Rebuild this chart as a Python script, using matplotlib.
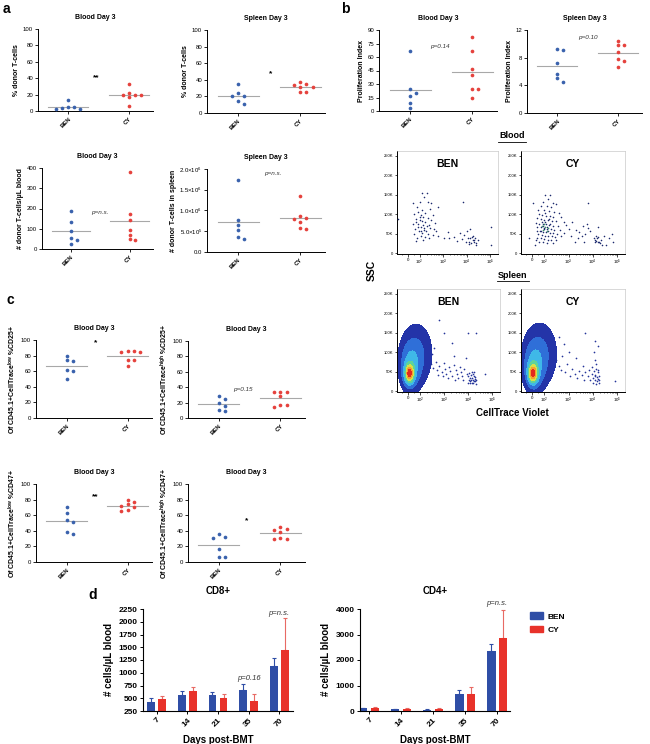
import numpy as np
import matplotlib
matplotlib.use('Agg')
import matplotlib.pyplot as plt
from matplotlib.lines import Line2D
from matplotlib.patches import Patch

plt.rcParams['font.family'] = ['Liberation Sans', 'DejaVu Sans']
plt.rcParams['mathtext.fontset'] = 'custom'
plt.rcParams['mathtext.rm'] = 'Liberation Sans'
plt.rcParams['mathtext.it'] = 'Liberation Sans:italic'
plt.rcParams['mathtext.bf'] = 'Liberation Sans:bold'
plt.rcParams['axes.linewidth'] = 0.7

# ======================= DATA =======================
groups = ['BEN', 'CY']

# panel a
blood_pct_ben = [13, 5, 5, 4, 3, 2]
blood_pct_cy = [33, 22, 20, 20, 20, 17, 6]
spleen_pct_ben = [35, 24, 21, 20, 15, 11]
spleen_pct_cy = [37, 35, 34, 31, 31, 25, 25]
blood_cnt_ben = [189, 133, 90, 56, 46, 27]
blood_cnt_cy = [380, 173, 143, 96, 68, 48, 43]
spleen_cnt_ben = [1.73e6, 0.77e6, 0.65e6, 0.53e6, 0.37e6, 0.31e6]
spleen_cnt_cy = [1.34e6, 0.87e6, 0.82e6, 0.80e6, 0.72e6, 0.57e6, 0.55e6]

# panel b
blood_pi_ben = [67, 24, 20, 17, 9, 3]
blood_pi_cy = [82, 67, 47, 40, 25, 24, 15]
spleen_pi_ben = [9.2, 9.1, 7.2, 5.7, 5.0, 4.5]
spleen_pi_cy = [10.4, 9.8, 9.8, 8.8, 7.8, 7.5, 6.7]

# panel c
cd25_low_ben = [80, 74, 73, 61, 60, 50]
cd25_low_cy = [86, 85, 86, 85, 74, 74, 67]
cd25_high_ben = [28, 25, 19, 15, 9, 10]
cd25_high_cy = [34, 34, 34, 28, 14, 17, 17]
cd47_low_ben = [71, 63, 54, 51, 39, 36]
cd47_low_cy = [80, 77, 74, 72, 70, 67, 66]
cd47_high_ben = [36, 32, 31, 17, 6, 6]
cd47_high_cy = [45, 42, 41, 38, 31, 30, 29]

# panel d
days = ['7', '14', '21', '35', '70']
cd8_ben = [430, 555, 565, 665, 1140]
cd8_ben_err = [80, 85, 65, 105, 140]
cd8_cy = [490, 640, 500, 455, 1440]
cd8_cy_err = [60, 80, 75, 135, 640]
cd4_ben = [100, 60, 55, 680, 2350]
cd4_ben_err = [20, 10, 10, 150, 290]
cd4_cy = [125, 90, 90, 680, 2870]
cd4_cy_err = [15, 10, 10, 270, 1100]

# flow cytometry events (x in display decades of biexponential axis, SSC in K)
blood_ben_u = [0.59, 0.80, 0.70, 0.52, 0.87, 0.38, 0.94, 0.62, 0.45, 0.75, 0.25, 0.55, 1.05, 0.66, 0.85,
               0.35, 0.50, 0.98, 0.60, 0.72, 1.15, 0.20, 0.42, 0.64, 0.80, 0.55, 0.95, 0.30, 0.70, 1.20,
               0.48, 0.62, 0.85, 0.26, 1.05, 0.58, 0.75, 0.40, 1.30, 0.92, 0.65, 0.35, 1.55, 1.75, 1.95,
               1.70, 0.45, 0.68, 0.52, 0.78, 0.33, 0.90, 1.10, 0.57,
               2.20, 2.40, 2.55, 2.65, 2.75, 2.80, 2.88, 2.70, 2.60, 2.50, 2.78, 2.30, 2.10, 2.90, 2.62,
               3.00, 2.45, 2.85, 2.72, 2.58, 2.82,
               -0.40, 0.20, 2.35, 3.55, 3.55, 1.30, 1.00]
blood_ben_y = [154, 154, 143, 131, 131, 118, 114, 112, 105, 104, 100, 98, 98, 93, 90,
               88, 86, 85, 82, 80, 78, 76, 74, 72, 70, 66, 65, 62, 60, 58,
               56, 52, 50, 50, 47, 45, 42, 40, 44, 38, 35, 32, 40, 38, 42,
               55, 68, 64, 92, 56, 80, 73, 62, 58,
               52, 46, 40, 38, 34, 30, 27, 25, 30, 56, 44, 36, 32, 22, 62,
               33, 28, 38, 42, 24, 35,
               88, 128, 132, 68, 22, 118, 130]

blood_cy_u = [0.55, 0.75, 0.65, 0.45, 0.85, 1.00, 0.35, 0.60, 0.78, 0.25, 0.50, 0.68, 0.92, 1.10, 0.30,
              0.42, 0.58, 0.72, 0.86, 1.20, 0.20, 0.36, 0.50, 0.64, 0.80, 0.98, 1.30, 0.15, 0.28, 0.44,
              0.56, 0.70, 0.84, 1.05, 1.40, 0.22, 0.36, 0.50, 0.62, 0.76, 0.92, 1.15, 1.50, 0.18, 0.32,
              0.46, 0.58, 0.72, 0.88, 1.02, 1.30, 0.26, 0.40, 0.54, 0.66, 0.80, 0.96, 1.20, 0.20, 0.35,
              0.50, 0.64, 0.78, 1.00, 0.30, 0.46, 0.60, 0.85, 0.14, 1.60, 1.65, 0.10, 0.40, 0.70, 0.55,
              0.48, 0.62, 0.38, 0.74, 0.66, 0.44, 0.52,
              1.80, 1.95, 2.10, 2.20, 2.30, 1.90, 2.05, 2.25, 2.40, 2.15, 1.75, 2.70,
              2.55, 2.60, 2.65, 2.70, 2.75, 2.62, 2.68, 2.80, 2.58, 2.72, 2.85, 2.90, 3.05, 3.15, 3.35,
              3.30, 2.95, -0.15, 0.05, 2.30]
blood_cy_y = [150, 148, 140, 132, 130, 125, 122, 120, 118, 112, 110, 108, 106, 104, 100,
              98, 96, 95, 92, 92, 90, 88, 86, 85, 83, 82, 80, 78, 76, 75,
              74, 72, 70, 70, 72, 68, 66, 64, 63, 62, 60, 60, 62, 58, 56,
              55, 54, 52, 51, 50, 52, 48, 46, 45, 44, 43, 42, 44, 40, 38,
              36, 35, 34, 33, 30, 28, 26, 25, 35, 45, 80, 20, 80, 88, 102,
              62, 66, 58, 76, 56, 70, 80,
              60, 55, 70, 50, 65, 40, 45, 75, 58, 30, 30, 68,
              40, 35, 32, 30, 28, 45, 38, 25, 28, 42, 35, 20, 22, 40, 30,
              48, 45, 40, 130, 130]
blood_cy_dense = [0.45, 0.55, 0.60, 0.50, 0.40, 0.66]
blood_cy_dense_y = [60, 68, 58, 75, 70, 64]

spleen_ben_u = [0.95, 1.05, 1.15, 1.20, 1.30, 1.40, 1.50, 1.55, 1.60, 1.70, 1.75, 1.85, 1.90, 2.00, 2.05,
                2.10, 2.15, 2.20, 2.25, 2.30, 2.35, 1.45, 1.65, 1.25, 1.95, 2.45, 2.50, 2.55, 2.60, 2.62,
                2.68, 2.70, 2.72, 2.75, 2.78, 2.80, 2.82, 2.65, 2.58, 2.85, 2.50, 2.75, 3.20, 1.30, 1.50,
                2.50, 2.85, 1.85, 1.90, 2.40, 1.00, 1.10, 0.90, 2.66, 2.74, 2.60, 2.70, 2.80, 2.55, 2.64]
spleen_ben_y = [70, 60, 75, 55, 65, 50, 72, 58, 45, 62, 52, 40, 68, 55, 45,
                35, 62, 50, 40, 30, 58, 38, 35, 42, 30, 45, 38, 30, 25, 42,
                35, 28, 20, 40, 32, 25, 18, 48, 20, 30, 22, 50, 45, 183, 150,
                150, 150, 124, 90, 85, 95, 110, 120, 22, 26, 34, 44, 36, 46, 30]
spleen_cy_u = [1.00, 1.10, 1.20, 1.25, 1.35, 1.45, 1.55, 1.65, 1.75, 1.85, 1.95, 2.05, 2.10, 2.15, 2.20,
               2.30, 2.35, 2.40, 2.45, 2.48, 2.50, 2.52, 2.55, 2.58, 2.60, 2.62, 2.65, 2.66, 2.68, 2.70,
               2.72, 2.74, 2.76, 2.60, 2.55, 2.70, 2.20, 2.60, 3.40, 1.50, 1.80, 1.30, 1.10, 2.64, 2.70,
               2.58, 2.75]
spleen_cy_y = [80, 65, 55, 90, 48, 70, 40, 58, 45, 35, 52, 42, 65, 30, 48,
               38, 55, 28, 45, 62, 35, 22, 52, 30, 42, 18, 70, 36, 25, 48,
               32, 20, 40, 80, 100, 115, 150, 128, 25, 100, 85, 120, 140, 58, 55,
               40, 28]
# density clusters of the main population: (centre decade, centre SSC K, sd decade, sd SSC K, weight)
spleen_ben_clusters = [(0.06, 45, 0.12, 15, 1.0), (0.10, 62, 0.24, 34, 0.32), (0.35, 95, 0.38, 45, 0.17)]
spleen_cy_clusters = [(0.03, 45, 0.12, 15, 1.0), (0.08, 62, 0.24, 34, 0.34), (0.32, 95, 0.40, 46, 0.18)]

# ======================= STYLE =======================
BLUE_D = '#3a62ad'
RED_D = '#e5423d'
BLUE_B = '#2f4ea6'
RED_B = '#e8322a'
W, H = 650, 744

fig = plt.figure(figsize=(6.5, 7.44), dpi=100)


def rect(x0, x1, y0, y1):
    return [x0 / W, 1 - y1 / H, (x1 - x0) / W, (y1 - y0) / H]


def swarm(v, span, hpx, step=0.1, mind=4.0):
    pix = np.asarray(v, float) / span * hpx
    order = np.argsort(-pix, kind='stable')
    placed = []
    offs = np.zeros(len(pix))
    for i in order:
        for k in [0, 1, -1, 2, -2, 3, -3, 4, -4, 5, -5]:
            if all(not (pk == k and abs(pp - pix[i]) < mind) for pk, pp in placed):
                placed.append((k, pix[i]))
                offs[i] = k * step
                break
    return offs


def dot_axes(r, ben, cy, ylim, yticks, yticklabels, ylabel, title):
    ax = fig.add_axes(rect(*r))
    hpx = r[3] - r[2]
    for i, (vals, col) in enumerate(zip([ben, cy], [BLUE_D, RED_D])):
        v = np.asarray(vals, float)
        offs = swarm(v, ylim[1] - ylim[0], hpx)
        m = v.mean()
        ax.plot([i - 0.33, i + 0.33], [m, m], color='#a8a8a8', lw=0.8, zorder=2)
        ax.scatter(i + offs, v, s=7, color=col, lw=0, zorder=3, clip_on=False)
    ax.set_xlim(-0.5, 1.4)
    ax.set_ylim(*ylim)
    ax.set_yticks(yticks)
    ax.set_yticklabels(yticklabels, fontsize=4.3)
    ax.set_xticks([0, 1])
    ax.set_xticklabels(groups, rotation=45, ha='right', rotation_mode='anchor',
                       fontsize=4.3, fontweight='bold')
    ax.spines[['top', 'right']].set_visible(False)
    ax.tick_params(length=2, width=0.6, pad=1.5)
    ax.set_ylabel(ylabel, fontsize=5, fontweight='bold', labelpad=2)
    ax.set_title(title, fontsize=5, fontweight='bold', pad=7)
    return ax


def star(ax, x, y, s):
    ax.text(x, y, s, fontsize=6, fontweight='bold', ha='center', va='center')


def ptxt(ax, x, y, s):
    ax.text(x, y, s, fontsize=4.6, style='italic', color='#333333', ha='center', va='center')


pct_ticks = [0, 20, 40, 60, 80, 100]
pct_lbl = [str(t) for t in pct_ticks]

# ---------- panel a ----------
ax = dot_axes((38, 153, 29, 111), blood_pct_ben, blood_pct_cy, (0, 100), pct_ticks, pct_lbl,
              '% donor T-cells', 'Blood Day 3')
star(ax, 0.47, 40, '**')
ax = dot_axes((207, 325, 30, 113), spleen_pct_ben, spleen_pct_cy, (0, 100), pct_ticks, pct_lbl,
              '% donor T-cells', 'Spleen Day 3')
star(ax, 0.52, 47, '*')
ax = dot_axes((42, 153, 168, 249), blood_cnt_ben, blood_cnt_cy, (0, 400), [0, 100, 200, 300, 400],
              ['0', '100', '200', '300', '400'], '# donor T-cells/\u00b5L blood', 'Blood Day 3')
ptxt(ax, 0.49, 180, 'p=n.s.')
ax = dot_axes((207, 325, 169, 252), spleen_cnt_ben, spleen_cnt_cy, (0, 2e6),
              [0, 0.5e6, 1e6, 1.5e6, 2e6],
              ['0.0', '5.0\u00d710$^{5}$', '1.0\u00d710$^{6}$', '1.5\u00d710$^{6}$', '2.0\u00d710$^{6}$'],
              '# donor T-cells in spleen', 'Spleen Day 3')
ptxt(ax, 0.56, 1.9e6, 'p=n.s.')

# ---------- panel b ----------
ax = dot_axes((379, 497, 30, 111), blood_pi_ben, blood_pi_cy, (0, 90), [0, 15, 30, 45, 60, 75, 90],
              ['0', '15', '30', '45', '60', '75', '90'], 'Proliferation Index', 'Blood Day 3')
ptxt(ax, 0.48, 72, 'p=0.14')
ax = dot_axes((527, 642, 30, 113), spleen_pi_ben, spleen_pi_cy, (0, 12), [0, 4, 8, 12],
              ['0', '4', '8', '12'], 'Proliferation Index', 'Spleen Day 3')
ptxt(ax, 0.5, 10.9, 'p=0.10')

# ---------- panel c ----------
lab_low25 = 'Of CD45.1+CellTrace$^{\\mathbf{low}}$ %CD25+'
lab_high25 = 'Of CD45.1+CellTrace$^{\\mathbf{high}}$ %CD25+'
lab_low47 = 'Of CD45.1+CellTrace$^{\\mathbf{low}}$ %CD47+'
lab_high47 = 'Of CD45.1+CellTrace$^{\\mathbf{high}}$ %CD47+'
ax = dot_axes((36, 152, 340, 418), cd25_low_ben, cd25_low_cy, (0, 100), pct_ticks, pct_lbl,
              lab_low25, 'Blood Day 3')
star(ax, 0.47, 96, '*')
ax = dot_axes((188, 305, 341, 418), cd25_high_ben, cd25_high_cy, (0, 100), pct_ticks, pct_lbl,
              lab_high25, 'Blood Day 3')
ptxt(ax, 0.39, 37, 'p=0.15')
ax = dot_axes((36, 152, 484, 562), cd47_low_ben, cd47_low_cy, (0, 100), pct_ticks, pct_lbl,
              lab_low47, 'Blood Day 3')
star(ax, 0.47, 84, '**')
ax = dot_axes((188, 305, 484, 562), cd47_high_ben, cd47_high_cy, (0, 100), pct_ticks, pct_lbl,
              lab_high47, 'Blood Day 3')
star(ax, 0.45, 53, '*')

# ---------- flow plots ----------
LT = 100.0
LU = 0.5


def u_to_x(u):
    u = np.asarray(u, float)
    a = np.abs(u)
    return np.sign(u) * np.where(a <= LU, LT * a / LU, LT * 10 ** (a - LU))


def flow_axes(r, title):
    ax = fig.add_axes(rect(*r))
    ax.set_xscale('symlog', linthresh=LT, linscale=LU * 0.9)
    ax.set_xlim(u_to_x(-0.46), u_to_x(3.83))
    ax.set_ylim(-2, 262)
    ax.set_xticks([0, 1e2, 1e3, 1e4, 1e5])
    ax.set_xticklabels(['0', '$10^2$', '$10^3$', '$10^4$', '$10^5$'], fontsize=3.2)
    minors = [-50, 50] + [k * 10 ** d for d in (2, 3, 4) for k in range(2, 10)]
    ax.set_xticks(minors, minor=True)
    ax.set_xticklabels([], minor=True)
    ax.set_yticks([0, 50, 100, 150, 200, 250])
    ax.set_yticklabels(['0', '50K', '100K', '150K', '200K', '250K'], fontsize=3.0)
    ax.tick_params(length=1.8, width=0.5, pad=1)
    ax.tick_params(which='minor', length=1.0, width=0.4)
    for s in ['top', 'right']:
        ax.spines[s].set_color('#bbbbbb')
        ax.spines[s].set_linewidth(0.4)
    ax.text(0.5, 0.87, title, transform=ax.transAxes, fontsize=7.5, fontweight='bold',
            ha='center', va='center')
    return ax


ax = flow_axes((397, 498, 151, 254), 'BEN')
ax.scatter(u_to_x(blood_ben_u), blood_ben_y, s=1.3, color='#1c2a6e', lw=0, zorder=3)

ax = flow_axes((521, 625, 151, 254), 'CY')
ax.scatter(u_to_x(blood_cy_u), blood_cy_y, s=1.3, color='#1c2a6e', lw=0, zorder=3)
ax.scatter(u_to_x(blood_cy_dense), blood_cy_dense_y, s=1.5, color='#3a8f6a', lw=0, zorder=4)

dens_colors = ['#2434a8', '#2f6fd8', '#3fb8e8', '#5fd39a', '#d8e048', '#f5a030', '#e22a1e']
dens_levels = [0.03, 0.1, 0.22, 0.38, 0.55, 0.72, 0.87, 10]


def spleen_plot(r, title, clusters, tu, ty):
    ax = flow_axes(r, title)
    ug = np.linspace(-0.46, 3.83, 400)
    yg = np.linspace(0, 262, 300)
    U, Y = np.meshgrid(ug, yg)
    D = np.zeros_like(U)
    for cu, cy, su, sy, w in clusters:
        D += w * np.exp(-0.5 * (((U - cu) / su) ** 2 + ((Y - cy) / sy) ** 2))
    D /= D.max()
    ax.contourf(u_to_x(U), Y, D, levels=dens_levels, colors=dens_colors, zorder=2)
    ax.scatter(u_to_x(tu), ty, s=1.5, color='#24349a', lw=0, zorder=3)
    return ax


spleen_plot((397, 500, 289, 392), 'BEN', spleen_ben_clusters, spleen_ben_u, spleen_ben_y)
spleen_plot((521, 625, 289, 392), 'CY', spleen_cy_clusters, spleen_cy_u, spleen_cy_y)

fig.text(512 / W, 1 - 136 / H, 'Blood', fontsize=6.5, fontweight='bold', ha='center', va='center')
fig.add_artist(Line2D([498 / W, 526 / W], [1 - 142 / H] * 2, color='k', lw=0.6))
fig.text(513 / W, 1 - 275 / H, 'Spleen', fontsize=6.5, fontweight='bold', ha='center', va='center')
fig.add_artist(Line2D([497 / W, 529 / W], [1 - 281 / H] * 2, color='k', lw=0.6))
fig.text(372 / W, 1 - 270 / H, 'SSC', fontsize=7.5, fontweight='bold', rotation=90,
         ha='center', va='center')
fig.text(512 / W, 1 - 413 / H, 'CellTrace Violet', fontsize=7, fontweight='bold',
         ha='center', va='center')

# ---------- panel d ----------


def bar_axes(r, ben, ben_err, cy, cy_err, ylim, yticks, xlim, title):
    ax = fig.add_axes(rect(*r))
    x = np.arange(len(days))
    w = 0.26
    ax.bar(x - 0.18, ben, w, color=BLUE_B, zorder=2)
    ax.bar(x + 0.18, cy, w, color=RED_B, zorder=2)
    ax.errorbar(x - 0.18, ben, yerr=[np.zeros(len(ben)), ben_err], fmt='none', ecolor=BLUE_B,
                elinewidth=0.8, capsize=1.5, capthick=0.8, zorder=1)
    ax.errorbar(x + 0.18, cy, yerr=[np.zeros(len(cy)), cy_err], fmt='none', ecolor='#e86a64',
                elinewidth=0.8, capsize=1.5, capthick=0.8, zorder=1)
    ax.set_xlim(*xlim)
    ax.set_ylim(*ylim)
    ax.set_yticks(yticks)
    ax.set_yticklabels([str(t) for t in yticks], fontsize=6, fontweight='bold')
    ax.set_xticks(x)
    ax.set_xticklabels(days, rotation=45, ha='right', rotation_mode='anchor',
                       fontsize=6, fontweight='bold')
    ax.spines[['top', 'right']].set_visible(False)
    ax.spines[['left', 'bottom']].set_linewidth(0.8)
    ax.tick_params(length=2.5, width=0.7, pad=1.5)
    ax.set_ylabel('# cells/\u00b5L blood', fontsize=7, fontweight='bold', labelpad=3)
    ax.set_xlabel('Days post-BMT', fontsize=7, fontweight='bold', labelpad=5)
    ax.set_title(title, fontsize=7, fontweight='bold', pad=11)
    return ax


ax = bar_axes((143, 293, 609, 711), cd8_ben, cd8_ben_err, cd8_cy, cd8_cy_err, (250, 2250),
              [250, 500, 750, 1000, 1250, 1500, 1750, 2000, 2250], (-0.45, 4.45), 'CD8+')
ptxt(ax, 3, 890, 'p=0.16')
ptxt(ax, 4, 2170, 'p=n.s.')
for t in ax.texts:
    t.set_fontsize(5.5)

ax = bar_axes((360, 510, 609, 711), cd4_ben, cd4_ben_err, cd4_cy, cd4_cy_err, (0, 4000),
              [0, 1000, 2000, 3000, 4000], (-0.28, 4.4), 'CD4+')
t = ax.text(4, 4200, 'p=n.s.', fontsize=5.5, style='italic', color='#333333', ha='center',
            va='center', clip_on=False)
ax.legend(handles=[Patch(color=BLUE_B, label='BEN'), Patch(color=RED_B, label='CY')],
          loc='upper left', bbox_to_anchor=(1.08, 1.04), frameon=False,
          prop={'size': 6, 'weight': 'bold'}, handlelength=1.6, handleheight=0.8,
          labelspacing=0.6, handletextpad=0.6)

# ---------- panel letters ----------
for txt, x, y in [('a', 6, 9), ('b', 345, 9), ('c', 10, 300), ('d', 93, 595)]:
    fig.text(x / W, 1 - y / H, txt, fontsize=10, fontweight='bold', ha='center', va='center')

fig.savefig('out.png', dpi=100)
